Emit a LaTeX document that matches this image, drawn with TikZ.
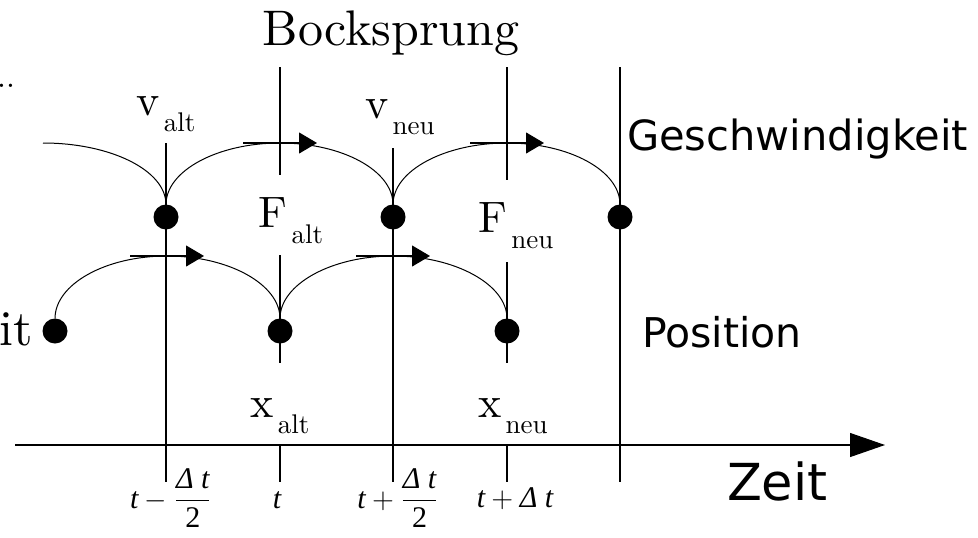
\documentclass[tikz,border=0pt]{standalone}
\usepackage{amsmath}
\usepackage{fontspec}
\newfontfamily\dejavu{DejaVu Sans}
\newfontfamily\lmten{lmroman10-regular.otf}
\newfontfamily\tnr{Liberation Serif}
\usepackage{tikz}
\usetikzlibrary{arrows.meta,positioning}

% symbol with a lowered subscript, as in the picture
\newcommand{\symsub}[2]{{\lmten\fontsize{22}{22}\selectfont #1}\kern2pt%
  \raisebox{-8pt}{\lmten\fontsize{13.5}{13.5}\selectfont #2}}
% italic time symbols
\newcommand{\ti}[1]{\text{\tnr\itshape #1}}

\begin{document}
\begin{tikzpicture}[x=0.5pt,y=0.5pt,
      every node/.style={inner sep=0pt,outer sep=0pt},
      dot/.style={circle,fill=black,minimum size=12.5pt},
      grid/.style={line width=0.55pt},
      hop/.style={line width=0.5pt},
      tip/.style={-{Triangle[length=9pt,width=10.5pt]},line width=0.55pt},
      axis/.style={-{Triangle[length=17.5pt,width=12pt]},line width=0.55pt},
      sym/.style={anchor=base},
      sans/.style={anchor=base west},
      tick/.style={anchor=base,font=\fontsize{15}{15}\selectfont},
    ]
    \useasboundingbox (0,0) rectangle (978,537);

    % Time grid
    \draw[grid] (166,394) -- (166,55);
    \draw[grid] (393,389) -- (393,55);
    \draw[grid] (620,470) -- (620,55);
    \draw[grid] (280,470) -- (280,362);
    \draw[grid] (507,470) -- (507,357);
    \draw[grid] (280,282) -- (280,174);
    \draw[grid] (507,275) -- (507,174);
    \draw[grid] (280,92) -- (280,55);
    \draw[grid] (507,92) -- (507,55);

    % Time axis
    \coordinate (t0) at (15,92);
    \coordinate (tend) at (885,92);
    \draw[axis] (t0) -- (tend);

    % Velocity row
    \node[dot] (v1) at (166,320) {};
    \node[dot] (v2) at (393,320) {};
    \node[dot] (v3) at (620,320) {};
    \coordinate (pv0) at (43,394);
    \coordinate (pv1) at (280,394);
    \coordinate (pv2) at (507,394);

    \draw[hop] (pv0) to[out=0,in=90,out distance=34pt,in distance=17pt] (v1.north);
    \draw[hop] (v1.north) to[out=90,in=180,out distance=17pt,in distance=31pt] (pv1)
        to[out=0,in=90,out distance=31pt,in distance=17pt] (v2.north);
    \draw[hop] (v2.north) to[out=90,in=180,out distance=17pt,in distance=31pt] (pv2)
        to[out=0,in=90,out distance=31pt,in distance=17pt] (v3.north);
    \draw[tip] ([xshift=-18.5pt]pv1) -- ([xshift=18.5pt]pv1);
    \draw[tip] ([xshift=-18.5pt]pv2) -- ([xshift=18.5pt]pv2);

    % Position row
    \node[dot] (x0) at (55,206) {};
    \node[dot] (x1) at (280,206) {};
    \node[dot] (x2) at (507,206) {};
    \coordinate (px1) at (167,281);
    \coordinate (px2) at (393,281);

    \draw[hop] (x0.north) to[out=90,in=180,out distance=17pt,in distance=31pt] (px1)
        to[out=0,in=90,out distance=31pt,in distance=17pt] (x1.north);
    \draw[hop] (x1.north) to[out=90,in=180,out distance=17pt,in distance=31pt] (px2)
        to[out=0,in=90,out distance=31pt,in distance=17pt] (x2.north);
    \draw[tip] ([xshift=-18.5pt]px1) -- ([xshift=18.5pt]px1);
    \draw[tip] ([xshift=-18.5pt]px2) -- ([xshift=18.5pt]px2);

    % Labels
    \node[anchor=base,font=\lmten\fontsize{25}{25}\selectfont] (title) at (391,492) {Bocksprung};
    \node[anchor=base east,font=\lmten\fontsize{16}{16}\selectfont] (dots) at (15,450) {..};
    \node[anchor=base east,font=\lmten\fontsize{25}{25}\selectfont] (cut) at (33,192) {it};

    \node[sym] (valt) at (166,422) {\symsub{v}{alt}};
    \node[sym] (vneu) at (400,419) {\symsub{v}{neu}};
    \node[sym] (Falt) at (291,310) {\symsub{F}{alt}};
    \node[sym] (Fneu) at (516,305) {\symsub{F}{neu}};
    \node[sym] (xalt) at (280,120) {\symsub{x}{alt}};
    \node[sym] (xneu) at (513,120) {\symsub{x}{neu}};

    \node[sans,font=\dejavu\fontsize{20.8}{20.8}\selectfont] (speed) at (627,387) {Geschwindigkeit};
    \node[sans,font=\dejavu\fontsize{20.5}{20.5}\selectfont] (pos) at (642,190) {Position};
    \node[sans,font=\dejavu\fontsize{25.5}{25.5}\selectfont] (zeit) at (727,37) {Zeit};

    % Tick labels
    \node[tick] (ta) at (171,29) {$\ti{t}-\dfrac{\ti{Δ t}}{\text{\tnr 2}}$};
    \node[tick] (tb) at (277,29) {$\ti{t}$};
    \node[tick] (tc) at (398,29) {$\ti{t}+\dfrac{\ti{Δ t}}{\text{\tnr 2}}$};
    \node[tick] (td) at (515,30) {$\ti{t}+\ti{Δ t}$};

  \end{tikzpicture}
\end{document}
